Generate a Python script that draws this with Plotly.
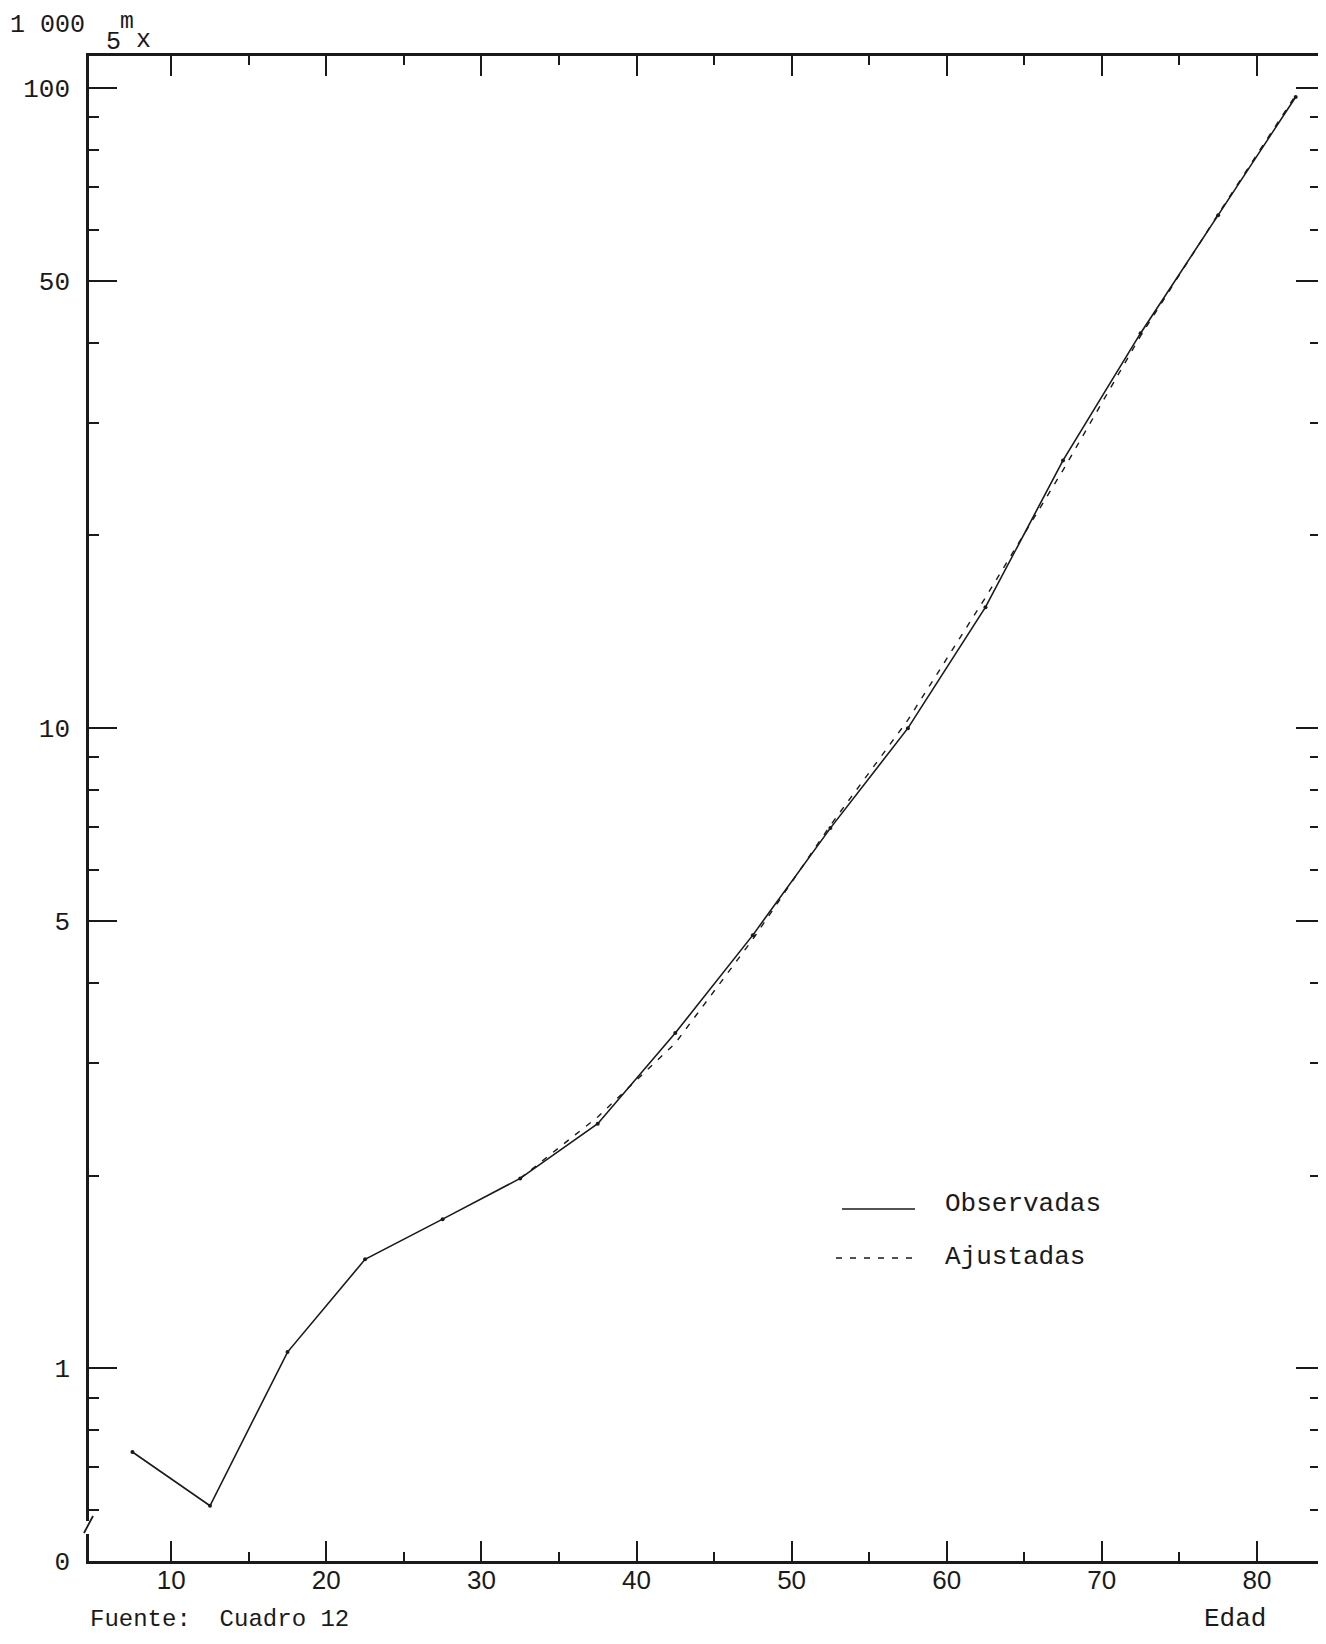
import plotly.graph_objects as go

# ---- data ----
edad = [7.5, 12.5, 17.5, 22.5, 27.5, 32.5, 37.5, 42.5, 47.5, 52.5, 57.5, 62.5, 67.5, 72.5, 77.5, 82.5]
observadas = [0.74, 0.61, 1.06, 1.48, 1.71, 1.98, 2.41, 3.34, 4.75, 6.98, 10.0, 15.45, 26.2, 41.4, 63.3, 96.8]

edad_aj = [32.5, 37.5, 42.5, 47.5, 52.5, 57.5, 62.5, 67.5, 72.5, 77.5, 82.5]
ajustadas = [1.98, 2.47, 3.22, 4.68, 7.05, 10.3, 16.0, 25.3, 41.0, 63.5, 97.5]

x_major = [10, 20, 30, 40, 50, 60, 70, 80]
x_minor = [15, 25, 35, 45, 55, 65, 75]
y_major = [0.5, 1, 5, 10, 50, 100]
y_major_text = ["0", "1", "5", "10", "50", "100"]
y_minor = [0.6, 0.7, 0.8, 0.9, 2, 3, 4, 6, 7, 8, 9, 20, 30, 40, 60, 70, 80, 90]

legend_labels = ["Observadas", "Ajustadas"]

# ---- layout geometry ----
# The page body has an 8px margin, so the figure is 16px smaller than the
# window and every page position below is shifted by OFF.
OFF = 8
W, H = 1326 - 2 * OFF, 1644 - 2 * OFF
ML, MR, MT, MB = 89 - OFF, 0, 56 - OFF, H - (1561 - OFF)
PW, PH = W - ML - MR, H - MT - MB

def px(xp):  # page x -> paper
    return (xp - OFF - ML) / PW

def py(yp):  # page y -> paper
    return (H - MB - (yp - OFF)) / PH

INK = "#1a1a1a"
MONO = "Liberation Mono, Courier New, monospace"
SANS = "Liberation Sans, Arial, sans-serif"

fig = go.Figure()
fig.add_trace(go.Scatter(x=edad, y=observadas, mode="lines+markers",
                         line=dict(color=INK, width=1.6),
                         marker=dict(size=4, color=INK),
                         name=legend_labels[0], showlegend=False))
fig.add_trace(go.Scatter(x=edad_aj, y=ajustadas, mode="lines",
                         line=dict(color=INK, width=1.4, dash="6px,8px"),
                         name=legend_labels[1], showlegend=False))
# invisible trace to anchor the right-hand tick axis
fig.add_trace(go.Scatter(x=edad, y=observadas, mode="lines", yaxis="y2",
                         line=dict(color="rgba(0,0,0,0)", width=0),
                         hoverinfo="skip", showlegend=False))

x_lo = 4.7
x_hi = x_lo + PW / 15.51
yrange = [-0.301, 2.05]
fig.update_layout(
    width=W, height=H,
    margin=dict(l=ML, r=MR, t=MT, b=MB, pad=0),
    paper_bgcolor="white", plot_bgcolor="white",
    showlegend=False,
    xaxis=dict(range=[x_lo, x_hi], showgrid=False, zeroline=False,
               showline=True, linecolor=INK, linewidth=2.5, mirror="ticks",
               ticks="inside", ticklen=20, tickwidth=1.5, tickcolor=INK,
               tickmode="array", tickvals=x_major,
               tickfont=dict(family=SANS, size=26, color=INK),
               ticklabelstandoff=-6,
               minor=dict(tickmode="array", tickvals=x_minor, ticks="inside",
                          ticklen=9, tickwidth=1.5, tickcolor=INK, showgrid=False)),
    yaxis=dict(type="log", range=yrange, showgrid=False, zeroline=False,
               showline=True, linecolor=INK, linewidth=2.5, mirror=False,
               ticks="inside", ticklen=28, tickwidth=1.5, tickcolor=INK,
               tickmode="array", tickvals=y_major, ticktext=y_major_text,
               tickfont=dict(family=MONO, size=26, color=INK),
               ticklabelstandoff=11,
               minor=dict(tickmode="array", tickvals=y_minor, ticks="inside",
                          ticklen=10, tickwidth=1.5, tickcolor=INK, showgrid=False)),
    yaxis2=dict(type="log", range=yrange, overlaying="y", side="right", anchor="x",
                showgrid=False, zeroline=False, showline=False,
                ticks="inside", ticklen=22, tickwidth=1.5, tickcolor=INK,
                tickmode="array", tickvals=y_major, showticklabels=False,
                minor=dict(tickmode="array", tickvals=y_minor, ticks="inside",
                           ticklen=8, tickwidth=1.5, tickcolor=INK, showgrid=False)),
)

# axis break on the left axis
fig.add_shape(type="rect", xref="paper", yref="paper",
              x0=px(84), x1=px(95), y0=py(1534), y1=py(1521),
              fillcolor="white", line=dict(width=0), layer="above")
fig.add_shape(type="line", xref="paper", yref="paper",
              x0=px(84), y0=py(1533), x1=px(93), y1=py(1516),
              line=dict(color=INK, width=1.8), layer="above")

# manual legend
fig.add_shape(type="line", xref="paper", yref="paper",
              x0=px(842), x1=px(915), y0=py(1209), y1=py(1209),
              line=dict(color=INK, width=1.6))
fig.add_shape(type="line", xref="paper", yref="paper",
              x0=px(836), x1=px(913), y0=py(1258), y1=py(1258),
              line=dict(color=INK, width=1.4, dash="6px,8px"))
fig.add_annotation(x=px(943), y=py(1204), xref="paper", yref="paper",
                   text=legend_labels[0], showarrow=False, xanchor="left", yanchor="middle",
                   font=dict(family=MONO, size=26, color=INK))
fig.add_annotation(x=px(943), y=py(1257), xref="paper", yref="paper",
                   text=legend_labels[1], showarrow=False, xanchor="left", yanchor="middle",
                   font=dict(family=MONO, size=26, color=INK))

# y-axis title: 1 000 5m x
fig.add_annotation(x=px(8), y=py(25), xref="paper", yref="paper",
                   text="1 000", showarrow=False, xanchor="left", yanchor="middle",
                   font=dict(family=MONO, size=25, color=INK))
fig.add_annotation(x=px(113), y=py(42), xref="paper", yref="paper",
                   text="5", showarrow=False, xanchor="center", yanchor="middle",
                   font=dict(family=MONO, size=25, color=INK))
fig.add_annotation(x=px(127), y=py(22), xref="paper", yref="paper",
                   text="m", showarrow=False, xanchor="center", yanchor="middle",
                   font=dict(family=MONO, size=23, color=INK))
fig.add_annotation(x=px(143), y=py(40), xref="paper", yref="paper",
                   text="x", showarrow=False, xanchor="center", yanchor="middle",
                   font=dict(family=MONO, size=25, color=INK))
# x-axis title
fig.add_annotation(x=px(1202), y=py(1619), xref="paper", yref="paper",
                   text="Edad", showarrow=False, xanchor="left", yanchor="middle",
                   font=dict(family=MONO, size=26, color=INK))
# source note
fig.add_annotation(x=px(88), y=py(1635), xref="paper", yref="paper",
                   text="Fuente:  Cuadro 12", showarrow=False, xanchor="left", yanchor="bottom",
                   font=dict(family=MONO, size=24, color=INK))

fig.write_html("out.html")
